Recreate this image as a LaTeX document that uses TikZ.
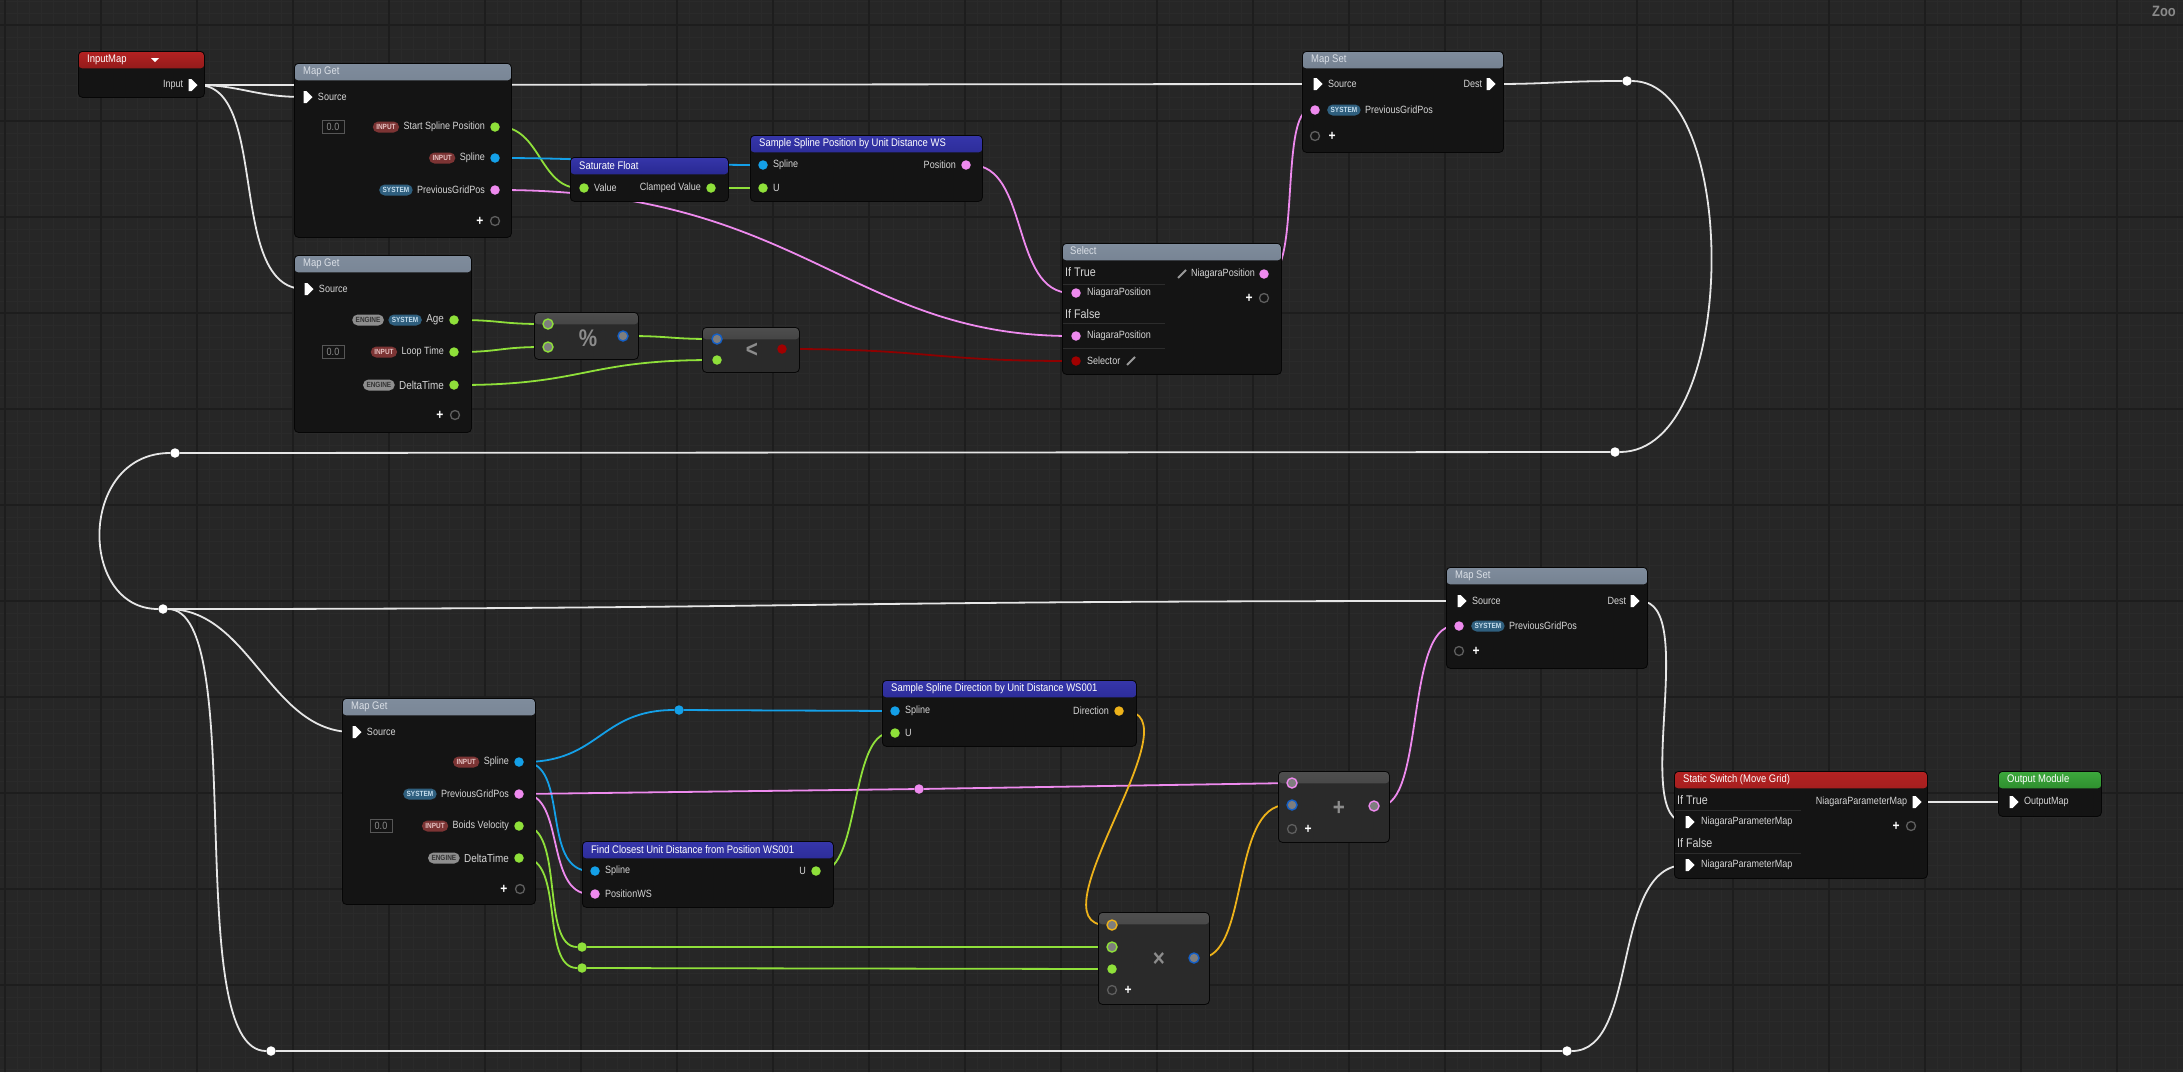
\documentclass[tikz,border=0pt]{standalone}
\usepackage{fontspec}
\setmainfont[FakeStretch=0.86]{Liberation Sans}
\usetikzlibrary{positioning, shapes.symbols}
\definecolor{ueBg}{HTML}{262626}
\definecolor{ueGridFine}{HTML}{2A2A2A}
\definecolor{ueGridMajor}{HTML}{1D1D1D}
\definecolor{ueBody}{HTML}{141414}
\definecolor{ueEdge}{HTML}{060606}
\definecolor{ueText}{HTML}{D6D6D6}
\definecolor{ueTitle}{HTML}{DADFE6}
\definecolor{ueFloat}{HTML}{8FE03A}
\definecolor{ueSpline}{HTML}{14A0E8}
\definecolor{uePos}{HTML}{EE8AEE}
\definecolor{ueBool}{HTML}{A00000}
\definecolor{ueBoolW}{HTML}{8E0000}
\definecolor{ueVec}{HTML}{EDB21A}
\definecolor{ueWire}{HTML}{E6E6E6}
\definecolor{ueWild}{HTML}{1460C8}
\definecolor{ueMapTop}{HTML}{7F8C9C}
\definecolor{ueMapBot}{HTML}{46505E}
\definecolor{ueFnTop}{HTML}{3636AA}
\definecolor{ueFnBot}{HTML}{12126A}
\definecolor{ueRedTop}{HTML}{B42222}
\definecolor{ueRedBot}{HTML}{5E0E0E}
\definecolor{ueGrnTop}{HTML}{3CA83C}
\definecolor{ueGrnBot}{HTML}{1A661A}
\definecolor{ueOpTop}{HTML}{4E4E4E}
\definecolor{ueOpBody}{HTML}{2A2A2A}
\definecolor{ueOpPin}{HTML}{7E7E7E}
\definecolor{ueOpSym}{HTML}{8C8C8C}
\definecolor{ueBadgeIn}{HTML}{7C3434}
\definecolor{ueBadgeInTxt}{HTML}{E6C2C2}
\definecolor{ueBadgeSys}{HTML}{2F5F7E}
\definecolor{ueBadgeSysTxt}{HTML}{C6DEEE}
\definecolor{ueBadgeEng}{HTML}{8E8E8E}
\definecolor{ueBadgeEngTxt}{HTML}{343434}
\definecolor{ueValEdge}{HTML}{565656}
\definecolor{ueValTxt}{HTML}{8C8C8C}
\definecolor{ueAddPin}{HTML}{5E5E5E}
\definecolor{ueIcon}{HTML}{9A9A9A}
\definecolor{ueSep}{HTML}{2C2C2C}
\definecolor{ueZoom}{HTML}{8A8A8A}
\pgfdeclarelayer{grid}
\pgfdeclarelayer{wires}
\pgfsetlayers{grid,wires,main}

\begin{document}
\begin{tikzpicture}[x=1pt, y=-1pt, node distance=5pt,
    every node/.style={font=\fontsize{10.5}{12}\selectfont, text=ueText},
    uebox/.style={draw=ueEdge, fill=ueBody, rounded corners=4pt, anchor=north west, inner sep=0pt, line width=0.8pt},
    hdr/.style 2 args={path picture={\shade[top color=#1, bottom color=#2] (path picture bounding box.north west) rectangle ([yshift=-17pt]path picture bounding box.north east);}},
    opbox/.style={uebox, fill=ueOpBody, path picture={\shade[top color=ueOpTop, bottom color=ueOpBody] (path picture bounding box.north west) rectangle ([yshift=-12pt]path picture bounding box.north east);}},
    ttl/.style={font=\fontsize{11}{13}\selectfont, text=ueTitle, anchor=west, inner sep=0pt},
    lbl/.style={inner sep=0pt},
    biglbl/.style={font=\fontsize{11.5}{13}\selectfont, inner sep=0pt},
    sect/.style={font=\fontsize{12.5}{14}\selectfont, anchor=west, inner sep=0pt},
    badgebase/.style={rounded corners=5.5pt, font=\fontsize{7.5}{8}\selectfont\bfseries, inner xsep=3.5pt, inner ysep=0pt, minimum height=11pt},
    inbadge/.style={badgebase, fill=ueBadgeIn, text=ueBadgeInTxt},
    sysbadge/.style={badgebase, fill=ueBadgeSys, text=ueBadgeSysTxt},
    engbadge/.style={badgebase, fill=ueBadgeEng, text=ueBadgeEngTxt},
    dpin/.style={circle, fill=#1, minimum size=9.5pt, inner sep=0pt},
    opin/.style={circle, fill=ueOpPin, draw=#1, line width=1.4pt, minimum size=10pt, inner sep=0pt},
    xpin/.style={signal, signal to=east, fill=white, minimum width=9pt, minimum height=12pt, inner sep=0pt},
    rr/.style={circle, fill=#1, minimum size=9.5pt, inner sep=0pt},
    wire/.style={line width=1.8pt, draw=#1},
    valbox/.style={draw=ueValEdge, text=ueValTxt, minimum width=22pt, minimum height=13pt, inner sep=0pt},
    plus/.style={font=\fontsize{14}{14}\selectfont\bfseries, text=white, inner sep=0pt},
    addpin/.style={circle, draw=ueAddPin, line width=1.3pt, minimum size=9pt, inner sep=0pt},
    opsym/.style={font=\fontsize{24}{24}\selectfont\bfseries, text=ueOpSym, inner sep=0pt},
    pencil/.style={draw=ueIcon, line width=2pt},
    sep/.style={draw=ueSep, line width=1pt}]

\useasboundingbox (0,0) rectangle (2183,1072);

% canvas grid
\begin{pgfonlayer}{grid}
  \fill[ueBg] (0,0) rectangle (2183,1072);
  \begin{scope}[shift={(5,25)}]
    \draw[ueGridFine, line width=0.6pt, step=12pt] (-5,-25) grid (2178,1047);
    \draw[ueGridMajor, line width=1.1pt, step=96pt] (-5,-25) grid (2178,1047);
  \end{scope}
\end{pgfonlayer}

\node[font=\fontsize{15}{15}\selectfont\bfseries, text=ueZoom, anchor=west, inner sep=0pt] (zoo) at (2152,11) {Zoo};

% ---- InputMap
\node[uebox, hdr={ueRedTop}{ueRedBot}, minimum width=126pt, minimum height=46pt] (inmap) at (78,51) {};
\node[ttl, text=white] (inmapT) at ([xshift=9pt,yshift=-9pt]inmap.north west) {InputMap};
\fill[white] (151,58) -- (159,58) -- (155,62) -- cycle;
\node[xpin] (inIn) at (190,85) {};
\node[lbl, left=5pt of inIn] (inInL) {Input};

% ---- Map Get (top)
\node[uebox, hdr={ueMapTop}{ueMapBot}, minimum width=217pt, minimum height=174pt] (mg1) at (294,63) {};
\node[ttl] (mg1T) at ([xshift=9pt,yshift=-8.5pt]mg1.north west) {Map Get};
\node[xpin] (mg1src) at (305,97) {};
\node[lbl, right=5pt of mg1src] (mg1srcL) {Source};
\node[dpin=ueFloat] (mg1ssp) at (495,127) {};
\node[lbl, left=5pt of mg1ssp] (mg1sspL) {Start Spline Position};
\node[inbadge, left=4pt of mg1sspL] (mg1sspB) {INPUT};
\node[valbox] (mg1val) at (333,127) {0.0};
\node[dpin=ueSpline] (mg1spl) at (495,158) {};
\node[lbl, left=5pt of mg1spl] (mg1splL) {Spline};
\node[inbadge, left=4pt of mg1splL] (mg1splB) {INPUT};
\node[dpin=uePos] (mg1pgp) at (495,190) {};
\node[lbl, left=5pt of mg1pgp] (mg1pgpL) {PreviousGridPos};
\node[sysbadge, left=4pt of mg1pgpL] (mg1pgpB) {SYSTEM};
\node[plus] (mg1plus) at (480,221) {+};
\node[addpin] (mg1add) at (495,221) {};

% ---- Map Get (second)
\node[uebox, hdr={ueMapTop}{ueMapBot}, minimum width=177pt, minimum height=177pt] (mg2) at (294,255) {};
\node[ttl] (mg2T) at ([xshift=9pt,yshift=-8.5pt]mg2.north west) {Map Get};
\node[xpin] (mg2src) at (306,289) {};
\node[lbl, right=5pt of mg2src] (mg2srcL) {Source};
\node[dpin=ueFloat] (mg2age) at (454,320) {};
\node[biglbl, left=5pt of mg2age] (mg2ageL) {Age};
\node[sysbadge, left=4pt of mg2ageL] (mg2ageB) {SYSTEM};
\node[engbadge, left=4pt of mg2ageB] (mg2ageE) {ENGINE};
\node[dpin=ueFloat] (mg2loop) at (454,352) {};
\node[lbl, left=5pt of mg2loop] (mg2loopL) {Loop Time};
\node[inbadge, left=4pt of mg2loopL] (mg2loopB) {INPUT};
\node[valbox] (mg2val) at (333,352) {0.0};
\node[dpin=ueFloat] (mg2dt) at (454,385) {};
\node[biglbl, left=5pt of mg2dt] (mg2dtL) {DeltaTime};
\node[engbadge, left=4pt of mg2dtL] (mg2dtB) {ENGINE};
\node[plus] (mg2plus) at (440,415) {+};
\node[addpin] (mg2add) at (455,415) {};

% ---- Saturate Float
\node[uebox, hdr={ueFnTop}{ueFnBot}, minimum width=158pt, minimum height=44pt] (sat) at (570,157) {};
\node[ttl, text=white] (satT) at ([xshift=9pt,yshift=-8.5pt]sat.north west) {Saturate Float};
\node[dpin=ueFloat] (satVal) at (584,188) {};
\node[lbl, right=5pt of satVal] (satValL) {Value};
\node[dpin=ueFloat] (satOut) at (711,188) {};
\node[lbl, left=5pt of satOut] (satOutL) {Clamped Value};

% ---- Sample Spline Position
\node[uebox, hdr={ueFnTop}{ueFnBot}, minimum width=232pt, minimum height=66pt] (ssp) at (750,135) {};
\node[ttl, text=white] (sspT) at ([xshift=9pt,yshift=-8.5pt]ssp.north west) {Sample Spline Position by Unit Distance WS};
\node[dpin=ueSpline] (sspSpl) at (763,165) {};
\node[lbl, right=5pt of sspSpl] (sspSplL) {Spline};
\node[dpin=ueFloat] (sspU) at (763,188) {};
\node[lbl, right=5pt of sspU] (sspUL) {U};
\node[dpin=uePos] (sspPos) at (966,165) {};
\node[lbl, left=5pt of sspPos] (sspPosL) {Position};

% ---- Select
\node[uebox, hdr={ueMapTop}{ueMapBot}, minimum width=219pt, minimum height=131pt] (sel) at (1062,243) {};
\node[ttl] (selT) at ([xshift=8pt,yshift=-8pt]sel.north west) {Select};
\node[sect] (selTrue) at (1065,272) {If True};
\draw[sep] (1063,284) -- (1165,284);
\node[dpin=uePos] (selT) at (1076,293) {};
\node[lbl, right=6pt of selT] (selTL) {NiagaraPosition};
\node[sect] (selFalse) at (1065,314) {If False};
\draw[sep] (1063,323) -- (1165,323);
\node[dpin=uePos] (selF) at (1076,336) {};
\node[lbl, right=6pt of selF] (selFL) {NiagaraPosition};
\draw[sep] (1063,348) -- (1165,348);
\node[dpin=ueBool] (selS) at (1076,361) {};
\node[lbl, right=6pt of selS] (selSL) {Selector};
\draw[pencil] (1127,365) -- (1135,357);
\node[dpin=uePos] (selOut) at (1264,274) {};
\node[lbl, left=4pt of selOut] (selOutL) {NiagaraPosition};
\draw[pencil] (1178,278) -- (1186,270);
\node[plus] (selplus) at (1249,298) {+};
\node[addpin] (seladd) at (1264,298) {};

% ---- Map Set (top)
\node[uebox, hdr={ueMapTop}{ueMapBot}, minimum width=201pt, minimum height=101pt] (ms1) at (1302,51) {};
\node[ttl] (ms1T) at ([xshift=9pt,yshift=-8.5pt]ms1.north west) {Map Set};
\node[xpin] (ms1src) at (1315,84) {};
\node[lbl, right=5pt of ms1src] (ms1srcL) {Source};
\node[xpin] (ms1dst) at (1488,84) {};
\node[lbl, left=4pt of ms1dst] (ms1dstL) {Dest};
\node[dpin=uePos] (ms1pgp) at (1315,110) {};
\node[sysbadge, right=7pt of ms1pgp] (ms1pgpB) {SYSTEM};
\node[lbl, right=4pt of ms1pgpB] (ms1pgpL) {PreviousGridPos};
\node[addpin] (ms1add) at (1315,136) {};
\node[plus] (ms1plus) at (1332,136) {+};

% ---- % and <
\node[opbox, minimum width=104pt, minimum height=47pt] (mod) at (534,312) {};
\node[opin=ueFloat] (modA) at (548,324) {};
\node[opin=ueFloat] (modB) at (548,347) {};
\node[opin=ueWild] (modO) at (623,336) {};
\node[opsym] (modS) at (588,338) {\%};
\node[opbox, minimum width=97pt, minimum height=45pt] (lt) at (702,327) {};
\node[opin=ueWild] (ltA) at (717,339) {};
\node[dpin=ueFloat] (ltB) at (717,360) {};
\node[dpin=ueBool] (ltO) at (782,349) {};
\node[opsym] (ltS) at (752,350) {<};

% ---- Map Get (bottom)
\node[uebox, hdr={ueMapTop}{ueMapBot}, minimum width=193pt, minimum height=206pt] (mg3) at (342,698) {};
\node[ttl] (mg3T) at ([xshift=9pt,yshift=-8.5pt]mg3.north west) {Map Get};
\node[xpin] (mg3src) at (354,732) {};
\node[lbl, right=5pt of mg3src] (mg3srcL) {Source};
\node[dpin=ueSpline] (mg3spl) at (519,762) {};
\node[lbl, left=5pt of mg3spl] (mg3splL) {Spline};
\node[inbadge, left=4pt of mg3splL] (mg3splB) {INPUT};
\node[dpin=uePos] (mg3pgp) at (519,794) {};
\node[lbl, left=5pt of mg3pgp] (mg3pgpL) {PreviousGridPos};
\node[sysbadge, left=4pt of mg3pgpL] (mg3pgpB) {SYSTEM};
\node[dpin=ueFloat] (mg3bv) at (519,826) {};
\node[lbl, left=5pt of mg3bv] (mg3bvL) {Boids Velocity};
\node[inbadge, left=4pt of mg3bvL] (mg3bvB) {INPUT};
\node[valbox] (mg3val) at (381,826) {0.0};
\node[dpin=ueFloat] (mg3dt) at (519,858) {};
\node[biglbl, left=5pt of mg3dt] (mg3dtL) {DeltaTime};
\node[engbadge, left=4pt of mg3dtL] (mg3dtB) {ENGINE};
\node[plus] (mg3plus) at (504,889) {+};
\node[addpin] (mg3add) at (520,889) {};

% ---- Find Closest
\node[uebox, hdr={ueFnTop}{ueFnBot}, minimum width=251pt, minimum height=66pt] (fc) at (582,841) {};
\node[ttl, text=white] (fcT) at ([xshift=9pt,yshift=-8.5pt]fc.north west) {Find Closest Unit Distance from Position WS001};
\node[dpin=ueSpline] (fcSpl) at (595,871) {};
\node[lbl, right=5pt of fcSpl] (fcSplL) {Spline};
\node[dpin=uePos] (fcPws) at (595,894) {};
\node[lbl, right=5pt of fcPws] (fcPwsL) {PositionWS};
\node[dpin=ueFloat] (fcU) at (816,871) {};
\node[lbl, left=5pt of fcU] (fcUL) {U};

% ---- Sample Spline Direction
\node[uebox, hdr={ueFnTop}{ueFnBot}, minimum width=254pt, minimum height=66pt] (ssd) at (882,680) {};
\node[ttl, text=white] (ssdT) at ([xshift=9pt,yshift=-8.5pt]ssd.north west) {Sample Spline Direction by Unit Distance WS001};
\node[dpin=ueSpline] (ssdSpl) at (895,711) {};
\node[lbl, right=5pt of ssdSpl] (ssdSplL) {Spline};
\node[dpin=ueFloat] (ssdU) at (895,733) {};
\node[lbl, right=5pt of ssdU] (ssdUL) {U};
\node[dpin=ueVec] (ssdDir) at (1119,711) {};
\node[lbl, left=5pt of ssdDir] (ssdDirL) {Direction};

% ---- + and x
\node[opbox, minimum width=111pt, minimum height=71pt] (add) at (1278,771) {};
\node[opin=uePos] (addA) at (1292,783) {};
\node[opin=ueWild] (addB) at (1292,805) {};
\node[opin=uePos] (addO) at (1374,806) {};
\node[opsym] (addS) at (1339,808) {+};
\node[addpin] (addadd) at (1292,829) {};
\node[plus] (addplus) at (1308,829) {+};
\node[opbox, minimum width=111pt, minimum height=92pt] (mul) at (1098,912) {};
\node[opin=ueVec] (mulA) at (1112,925) {};
\node[opin=ueFloat] (mulB) at (1112,947) {};
\node[dpin=ueFloat] (mulC) at (1112,969) {};
\node[opin=ueWild] (mulO) at (1194,958) {};
\node[opsym] (mulS) at (1159,959) {×};
\node[addpin] (muladd) at (1112,990) {};
\node[plus] (mulplus) at (1128,990) {+};

% ---- Map Set (bottom)
\node[uebox, hdr={ueMapTop}{ueMapBot}, minimum width=201pt, minimum height=101pt] (ms2) at (1446,567) {};
\node[ttl] (ms2T) at ([xshift=9pt,yshift=-8.5pt]ms2.north west) {Map Set};
\node[xpin] (ms2src) at (1459,601) {};
\node[lbl, right=5pt of ms2src] (ms2srcL) {Source};
\node[xpin] (ms2dst) at (1632,601) {};
\node[lbl, left=4pt of ms2dst] (ms2dstL) {Dest};
\node[dpin=uePos] (ms2pgp) at (1459,626) {};
\node[sysbadge, right=7pt of ms2pgp] (ms2pgpB) {SYSTEM};
\node[lbl, right=4pt of ms2pgpB] (ms2pgpL) {PreviousGridPos};
\node[addpin] (ms2add) at (1459,651) {};
\node[plus] (ms2plus) at (1476,651) {+};

% ---- Static Switch
\node[uebox, hdr={ueRedTop}{ueRedBot}, minimum width=253pt, minimum height=107pt] (ss) at (1674,771) {};
\node[ttl, text=white] (ssT) at ([xshift=9pt,yshift=-8.5pt]ss.north west) {Static Switch (Move Grid)};
\node[sect] (ssTrue) at (1677,800) {If True};
\draw[sep] (1675,810) -- (1801,810);
\node[xpin] (ssT) at (1687,822) {};
\node[lbl, right=6pt of ssT] (ssTL) {NiagaraParameterMap};
\node[sect] (ssFalse) at (1677,843) {If False};
\draw[sep] (1675,853) -- (1801,853);
\node[xpin] (ssF) at (1687,865) {};
\node[lbl, right=6pt of ssF] (ssFL) {NiagaraParameterMap};
\node[xpin] (ssOut) at (1914,802) {};
\node[lbl, left=5pt of ssOut] (ssOutL) {NiagaraParameterMap};
\node[plus] (ssplus) at (1896,826) {+};
\node[addpin] (ssadd) at (1911,826) {};

% ---- Output Module
\node[uebox, hdr={ueGrnTop}{ueGrnBot}, minimum width=103pt, minimum height=45pt] (om) at (1998,771) {};
\node[ttl, text=white] (omT) at ([xshift=9pt,yshift=-8.5pt]om.north west) {Output Module};
\node[xpin] (omIn) at (2011,802) {};
\node[lbl, right=5pt of omIn] (omInL) {OutputMap};

% ---- reroute knots
\node[rr=white] (rr1) at (1627,81) {};
\node[rr=white] (rr2) at (1615,452) {};
\node[rr=white] (rr3) at (175,453) {};
\node[rr=white] (rr4) at (163,609) {};
\node[rr=white] (rr5) at (271,1051) {};
\node[rr=white] (rr6) at (1567,1051) {};
\node[rr=ueSpline] (brr) at (679,710) {};
\node[rr=uePos] (prr) at (919,789) {};
\node[rr=ueFloat] (grr1) at (582,947) {};
\node[rr=ueFloat] (grr2) at (582,968) {};

% wires
\begin{pgfonlayer}{wires}
  \draw[wire=ueWire] (inIn) -- (ms1src);
  \draw[wire=ueWire] (inIn) .. controls (240,85) and (255,97) .. (mg1src);
  \draw[wire=ueWire] (inIn) .. controls (270,85) and (226,289) .. (mg2src);
  \draw[wire=ueWire] (ms1dst) .. controls (1550,84) and (1560,81) .. (rr1);
  \draw[wire=ueWire] (rr1) .. controls (1740,81) and (1740,452) .. (rr2);
  \draw[wire=ueWire] (rr2) -- (rr3);
  \draw[wire=ueWire] (rr3) .. controls (78,453) and (78,609) .. (rr4);
  \draw[wire=ueWire] (rr4) .. controls (800,609) and (800,601) .. (ms2src);
  \draw[wire=ueWire] (rr4) .. controls (250,609) and (270,732) .. (mg3src);
  \draw[wire=ueWire] (rr4) .. controls (250,609) and (180,1051) .. (rr5);
  \draw[wire=ueWire] (rr5) -- (rr6);
  \draw[wire=ueWire] (rr6) .. controls (1640,1051) and (1610,865) .. (ssF);
  \draw[wire=ueWire] (ms2dst) .. controls (1700,601) and (1630,822) .. (ssT);
  \draw[wire=ueWire] (ssOut) -- (omIn);
  \draw[wire=ueFloat] (mg1ssp) .. controls (540,127) and (540,188) .. (satVal);
  \draw[wire=ueSpline] (mg1spl) .. controls (600,158) and (660,165) .. (sspSpl);
  \draw[wire=uePos] (mg1pgp) .. controls (800,190) and (850,336) .. (selF);
  \draw[wire=ueFloat] (satOut) -- (sspU);
  \draw[wire=uePos] (sspPos) .. controls (1030,165) and (1010,293) .. (selT);
  \draw[wire=uePos] (selOut) .. controls (1300,274) and (1280,110) .. (ms1pgp);
  \draw[wire=ueFloat] (mg2age) .. controls (500,320) and (500,324) .. (modA);
  \draw[wire=ueFloat] (mg2loop) .. controls (500,352) and (500,347) .. (modB);
  \draw[wire=ueFloat] (mg2dt) .. controls (585,385) and (585,360) .. (ltB);
  \draw[wire=ueFloat] (modO) .. controls (670,336) and (670,339) .. (ltA);
  \draw[wire=ueBoolW] (ltO) .. controls (930,349) and (930,361) .. (selS);
  \draw[wire=ueSpline] (mg3spl) .. controls (600,762) and (600,710) .. (brr);
  \draw[wire=ueSpline] (brr) -- (ssdSpl);
  \draw[wire=ueSpline] (mg3spl) .. controls (570,762) and (540,871) .. (fcSpl);
  \draw[wire=uePos] (mg3pgp) .. controls (565,794) and (545,894) .. (fcPws);
  \draw[wire=uePos] (mg3pgp) -- (prr);
  \draw[wire=uePos] (prr) -- (addA);
  \draw[wire=ueFloat] (fcU) .. controls (860,871) and (850,733) .. (ssdU);
  \draw[wire=ueVec] (ssdDir) .. controls (1200,711) and (1030,925) .. (mulA);
  \draw[wire=ueFloat] (mg3bv) .. controls (565,826) and (540,947) .. (grr1);
  \draw[wire=ueFloat] (mg3dt) .. controls (565,858) and (540,968) .. (grr2);
  \draw[wire=ueFloat] (grr1) -- (mulB);
  \draw[wire=ueFloat] (grr2) -- (mulC);
  \draw[wire=ueVec] (mulO) .. controls (1250,958) and (1230,805) .. (addB);
  \draw[wire=uePos] (addO) .. controls (1425,806) and (1405,626) .. (ms2pgp);
\end{pgfonlayer}
\end{tikzpicture}
\end{document}
